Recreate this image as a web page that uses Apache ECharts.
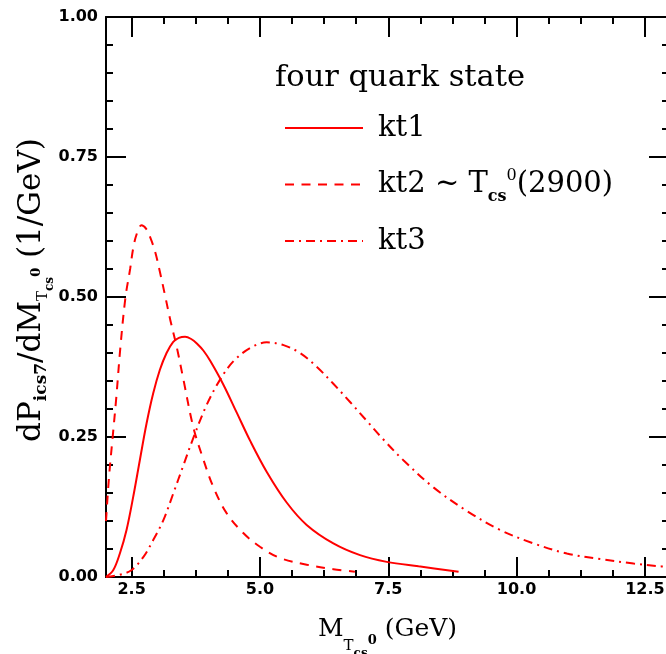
<!DOCTYPE html>
<html>
<head>
<meta charset="utf-8">
<script src="https://cdn.jsdelivr.net/npm/echarts@6/dist/echarts.min.js"></script>
<style>html,body{margin:0;padding:0;background:#fff}#c{width:666px;height:654px}</style>
</head>
<body>
<div id="c"></div>
<script>
// ---- data ----
const kt1X = [2.0, 2.14, 2.27, 2.40, 2.53, 2.66, 2.79, 2.92, 3.05, 3.18, 3.31, 3.42, 3.54, 3.66, 3.77, 3.90, 4.03, 4.29, 4.55, 4.81, 5.13, 5.52, 5.91, 6.43, 6.95, 7.47, 8.09, 8.87];
const kt1Y = [0.0, 0.012, 0.042, 0.084, 0.143, 0.209, 0.274, 0.328, 0.370, 0.400, 0.420, 0.427, 0.429, 0.425, 0.417, 0.404, 0.386, 0.343, 0.293, 0.243, 0.188, 0.133, 0.093, 0.060, 0.039, 0.027, 0.019, 0.0095];

const kt2X = [2.0, 2.06, 2.13, 2.20, 2.28, 2.38, 2.47, 2.53, 2.60, 2.69, 2.78, 2.86, 2.96, 3.05, 3.15, 3.25, 3.38, 3.51, 3.70, 3.90, 4.09, 4.35, 4.68, 5.0, 5.39, 5.91, 6.43, 6.85];
const kt2Y = [0.10, 0.18, 0.25, 0.32, 0.41, 0.50, 0.55, 0.587, 0.613, 0.628, 0.622, 0.607, 0.58, 0.545, 0.503, 0.46, 0.41, 0.352, 0.268, 0.209, 0.161, 0.114, 0.078, 0.054, 0.034, 0.022, 0.014, 0.0095];

const kt3X = [2.0, 2.27, 2.5, 2.73, 2.92, 3.12, 3.31, 3.51, 3.70, 3.96, 4.22, 4.48, 4.81, 5.13, 5.46, 5.78, 6.11, 6.43, 6.76, 7.08, 7.41, 7.80, 8.38, 9.03, 9.68, 10.33, 10.98, 11.63, 12.28, 12.73, 12.97];
const kt3Y = [0.0, 0.004, 0.0125, 0.036, 0.066, 0.102, 0.149, 0.200, 0.248, 0.307, 0.352, 0.385, 0.409, 0.419, 0.414, 0.40, 0.375, 0.345, 0.312, 0.279, 0.245, 0.208, 0.16, 0.118, 0.084, 0.06, 0.042, 0.032, 0.024, 0.0196, 0.018];

const seriesNames = ['kt1', 'kt2', 'kt3'];
const xMajor = [2.5, 5.0, 7.5, 10.0, 12.5];
const xMinor = [3.125, 3.75, 4.375, 5.625, 6.25, 6.875, 8.125, 8.75, 9.375, 10.625, 11.25, 11.875];
const yMajor = [0, 0.25, 0.5, 0.75, 1.0];
const yMinor = [0.05, 0.1, 0.15, 0.2, 0.3, 0.35, 0.4, 0.45, 0.55, 0.6, 0.65, 0.7, 0.8, 0.85, 0.9, 0.95];
const xRange = [2, 12.97];
const yRange = [0, 1];

// ---- chart ----
const serif = 'DejaVu Serif';
const sans = 'DejaVu Sans';
const RED = '#ff0000';
const lineTypes = ['solid', [9, 7.5], [9, 5, 2, 5]];

function axis(kind, pos, vals, len, opts) {
  const a = {
    type: 'value', position: pos,
    min: kind === 'x' ? xRange[0] : yRange[0],
    max: kind === 'x' ? xRange[1] : yRange[1],
    splitLine: {show: false},
    axisLine: {show: !!opts.line, onZero: false, lineStyle: {color: '#000', width: 2}},
    axisTick: {show: true, inside: true, length: len, customValues: vals, lineStyle: {color: '#000', width: 2}},
    axisLabel: {show: false},
    axisPointer: {show: false}
  };
  if (opts.labels) {
    a.axisLabel = {
      show: true, customValues: vals, inside: false, margin: opts.margin,
      fontFamily: sans, fontWeight: 'bold', fontSize: 16, color: '#000',
      formatter: v => v.toFixed(opts.dec)
    };
  }
  if (opts.name) Object.assign(a, opts.name);
  return a;
}

function richFor(main, sh) {
  return {
    m: {fontFamily: serif, fontSize: main, color: '#000'},
    s: {fontFamily: serif, fontSize: 17, fontWeight: 'bold', color: '#000', padding: [sh.s, 0, 0, 0]},
    t: {fontFamily: serif, fontSize: 15, color: '#000', padding: [sh.t, 0, 0, 0]},
    cs: {fontFamily: serif, fontSize: 12, fontWeight: 'bold', color: '#000', padding: [sh.cs, 0, 0, 0]},
    z: {fontFamily: serif, fontSize: 13, fontWeight: 'bold', color: '#000', padding: [sh.z, 0, 0, 0]}
  };
}

const chart = echarts.init(document.getElementById('c'), null, {renderer: 'canvas'});
chart.setOption({
  animation: false,
  backgroundColor: '#fff',
  grid: {left: 106, top: 17, width: 563, height: 560, containLabel: false, outerBoundsMode: 'none'},
  title: {
    text: 'four quark state', left: 275, top: 60, padding: 0,
    textStyle: {fontFamily: serif, fontWeight: 'normal', fontSize: 30.5, color: '#000', lineHeight: 36}
  },
  legend: {
    data: seriesNames, orient: 'vertical', left: 284, top: 108, padding: 0,
    itemWidth: 78, itemHeight: 14, itemGap: 16.5, selectedMode: false,
    itemStyle: {opacity: 0, borderWidth: 0},
    formatter: n => n === 'kt2' ? 'kt2 ~ T{sb|cs}{sp|0}(2900)' : n,
    textStyle: {
      fontFamily: serif, fontSize: 29, color: '#000', lineHeight: 40, padding: [0, 0, 0, 10],
      rich: {
        sb: {fontFamily: serif, fontSize: 16, fontWeight: 'bold', color: '#000', padding: [24, 0, 0, 0]},
        sp: {fontFamily: serif, fontSize: 16, color: '#000', padding: [0, 0, 17, 0]}
      }
    }
  },
  xAxis: [
    axis('x', 'bottom', xMajor, 20, {line: true, labels: true, margin: 5, dec: 1, name: {
      name: '{m|M}{t|T}{cs|cs}{z|0}{m| (GeV)}', nameLocation: 'middle', nameGap: 37, nameMoveOverlap: false,
      nameTextStyle: {lineHeight: 30, rich: richFor(25, {s: 26, t: 35, cs: 50, z: 24})}
    }}),
    axis('x', 'bottom', xMinor, 7, {}),
    axis('x', 'top', xMajor, 20, {line: true}),
    axis('x', 'top', xMinor, 7, {})
  ],
  yAxis: [
    axis('y', 'left', yMajor, 20, {line: true, labels: true, margin: 8, dec: 2, name: {
      name: '{m|dP}{s|ics7}{m|/dM}{t|T}{cs|cs}{z|0}{m| (1/GeV)}', nameLocation: 'middle', nameGap: 59, nameMoveOverlap: false,
      nameTextStyle: {lineHeight: 30, padding: [0, 0, 0, 14], rich: richFor(31, {s: 20, t: 22, cs: 36, z: 10})}
    }}),
    axis('y', 'left', yMinor, 7, {}),
    axis('y', 'right', yMajor, 20, {line: true}),
    axis('y', 'right', yMinor, 7, {})
  ],
  series: [
    {name: 'kt1', type: 'line', data: kt1X.map((x, i) => [x, kt1Y[i]])},
    {name: 'kt2', type: 'line', data: kt2X.map((x, i) => [x, kt2Y[i]])},
    {name: 'kt3', type: 'line', data: kt3X.map((x, i) => [x, kt3Y[i]])}
  ].map((s, i) => Object.assign(s, {
    xAxisIndex: 0, yAxisIndex: 0, symbol: 'none', showSymbol: false, smooth: 0.35,
    clip: true, color: RED,
    lineStyle: {color: RED, width: 2, type: lineTypes[i]}
  }))
});
</script>
</body>
</html>
